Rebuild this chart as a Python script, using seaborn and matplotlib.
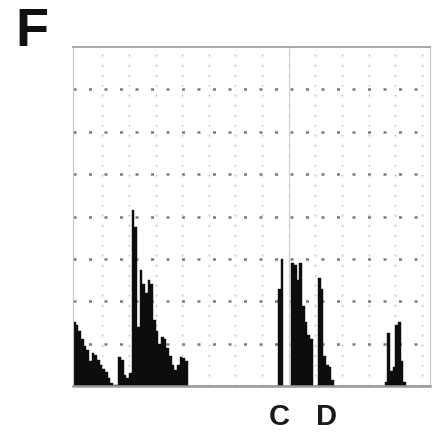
import matplotlib
matplotlib.use("Agg")
import matplotlib.pyplot as plt
import matplotlib.transforms as mtransforms
import numpy as np
import pandas as pd
import seaborn as sns

# histogram counts, in units of one grid division, per channel
peak_a_start = -1
peak_a_counts = [1.5, 1.45, 1.3, 1.1, 0.95, 0.85, 0.6, 0.78, 0.72, 0.62, 0.5, 0.4,
                 0.33, 0.2, 0.06, 0.02, 0.03, 0.68, 0.62, 0.25, 0.2, 0.3, 4.15, 3.75,
                 1.4, 2.74, 2.4, 2.2, 2.5, 2.4, 1.55, 1.3, 1.0, 1.15, 1.1, 0.9, 0.7,
                 0.5, 0.38, 0.5, 0.68, 0.65, 0.6]
peak_c_start = 76
peak_c_counts = [2.3, 3.0, 0.0, 0.0, 0.0, 2.9, 2.85, 2.5, 2.9, 1.9, 1.5, 1.2, 1.1,
                 0.0, 0.0, 2.55, 2.3, 0.7, 0.5, 0.45, 0.15]
peak_e_start = 116
peak_e_counts = [0.1, 1.25, 0.35, 0.45, 1.45, 1.5, 0.6, 0.1]

marker_labels = ["C", "D"]
marker_channels = [76.6, 94.2]

frames = []
for start, counts in [(peak_a_start, peak_a_counts),
                      (peak_c_start, peak_c_counts),
                      (peak_e_start, peak_e_counts)]:
    frames.append(pd.DataFrame({"channel": np.arange(start, start + len(counts)) + 0.5,
                                "count": counts}))
df = pd.concat(frames, ignore_index=True)

sns.set_theme(style="white")
fig = plt.figure(figsize=(4.41, 4.32), dpi=100)
ax = fig.add_axes([0.1655, 0.1065, 0.8095, 0.7845])

sns.histplot(data=df, x="channel", weights="count", bins=list(range(-1, 134)),
             element="bars", fill=True, color="#0d0d0d", alpha=1,
             edgecolor="#0d0d0d", linewidth=0.3, ax=ax)

ax.set_xlim(-1, 133)
ax.set_ylim(0, 8)

for y in range(1, 8):
    ax.axhline(y, color="#7a7a7a", lw=1.8, ls=(0, (1.2, 5.0)), zorder=0)
for x in range(10, 131, 10):
    ax.axvline(x, color="#b5b5b5", lw=1.0, ls=(0, (1.2, 6)), zorder=0)
ax.axvline(80, color="#d0d0d0", lw=0.8, zorder=0)

for side in ["left", "right", "top", "bottom"]:
    ax.spines[side].set_color("#c8c8c8")
    ax.spines[side].set_linewidth(0.8)
ax.spines["bottom"].set_color("#9a9a9a")
ax.spines["bottom"].set_linewidth(1.8)
ax.spines["top"].set_color("#a8a8a8")
ax.spines["top"].set_linewidth(1.4)

ax.set_xticks([])
ax.set_yticks([])
ax.set_xlabel("")
ax.set_ylabel("")

trans = mtransforms.blended_transform_factory(ax.transData, ax.transAxes)
for label, ch in zip(marker_labels, marker_channels):
    ax.text(ch, -0.115, label, transform=trans, ha="center", va="baseline",
            fontsize=21, fontweight="bold", family=["Liberation Sans", "DejaVu Sans"],
            color="#1a1a1a")

fig.text(0.0714, 0.893, "F", ha="center", va="baseline", fontsize=39,
         fontweight="bold", family=["Liberation Sans", "DejaVu Sans"], color="#111111")

fig.savefig("out.png", dpi=100, facecolor="white")
